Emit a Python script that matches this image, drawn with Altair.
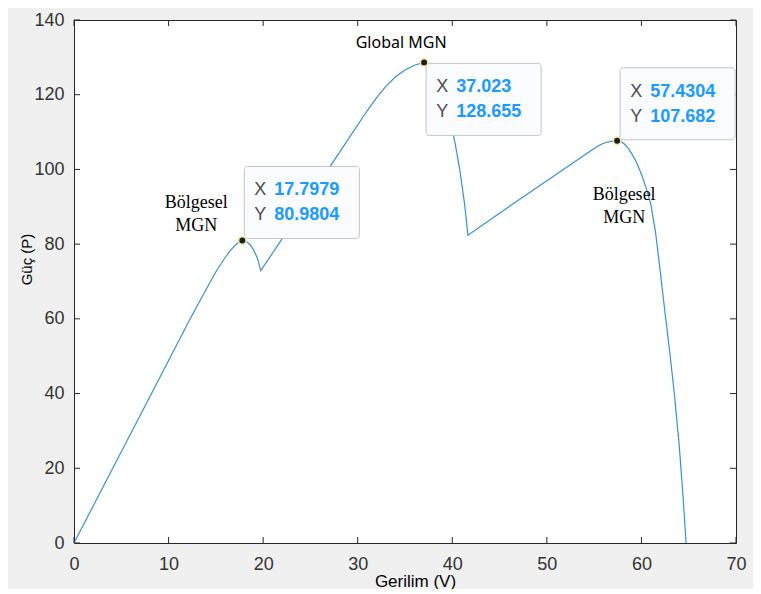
import altair as alt
import pandas as pd

# ---- data ----
volt = [0, 7.8, 12.0, 13.0, 14.0, 15.0, 16.0, 16.5, 17.0, 17.4, 17.7979,
        18.2, 18.6, 19.0, 19.4, 19.75,
        22.0, 25.0, 28.0, 31.0, 32.0, 33.0, 34.0, 35.0, 36.0, 37.023,
        37.4, 37.8, 38.2, 38.6, 39.0, 39.4, 39.8, 40.3, 40.8, 41.3, 41.65,
        45.0, 50.0, 55.0, 55.5, 56.0, 56.5, 57.0, 57.4304,
        57.8, 58.2, 58.6, 59.0, 59.5, 60.0, 60.5, 61.0, 61.5, 62.0,
        62.5, 63.0, 63.5, 64.0, 64.4, 64.72]
power = [0, 38.1, 58.6, 63.4, 68.0, 72.6, 76.5, 78.2, 79.6, 80.5, 80.9804,
         80.7, 79.9, 78.4, 76.2, 72.9,
         81.4, 92.9, 104.3, 115.7, 119.2, 122.3, 124.8, 126.6, 127.9, 128.655,
         128.4, 127.6, 126.2, 124.0, 120.8, 117.0, 112.8, 107.0, 99.8, 90.8, 82.4,
         88.3, 97.0, 105.6, 106.4, 107.0, 107.4, 107.6, 107.682,
         107.5, 106.8, 105.7, 104.1, 101.8, 98.7, 95.0, 90.6, 83.0, 72.5,
         61.5, 51.0, 39.5, 26.0, 12.5, 0]

tip_x = [17.7979, 37.023, 57.4304]
tip_y = [80.9804, 128.655, 107.682]
tip_xtxt = ["17.7979", "37.023", "57.4304"]
tip_ytxt = ["80.9804", "128.655", "107.682"]
notes = ["Bölgesel\nMGN", "Global MGN", "Bölgesel\nMGN"]

x_ticks = [0, 10, 20, 30, 40, 50, 60, 70]
y_ticks = [0, 20, 40, 60, 80, 100, 120, 140]

W, H = 662, 523
LINE = "#3a90d4"
FONT = "Liberation Sans"

curve = pd.DataFrame({"v": volt, "p": power})
xs = alt.Scale(domain=[0, 70], nice=False, zero=False)
ys = alt.Scale(domain=[0, 140], nice=False, zero=False)

x_axis = alt.Axis(values=x_ticks, grid=False, ticks=False, tickSize=0, domain=False,
                  labelFontSize=18, labelFont=FONT, labelColor="#333333", labelPadding=12,
                  labelFlush=False, labelOverlap=False,
                  title="Gerilim (V)", titleFont=FONT, titleFontSize=17, titleFontWeight="normal",
                  titleColor="#000000", titleX=341, titleY=43, titleAlign="center",
                  titleBaseline="alphabetic")
y_axis = alt.Axis(values=y_ticks, grid=False, ticks=False, tickSize=0, domain=False,
                  labelFontSize=18, labelFont=FONT, labelColor="#333333", labelPadding=10,
                  labelFlush=False, labelOverlap=False,
                  title="Güç (P)", titleFont=FONT, titleFontSize=15, titleFontWeight="normal",
                  titleColor="#000000", titleAngle=270, titleX=-48, titleY=239,
                  titleAlign="center", titleBaseline="middle")

line = alt.Chart(curve).mark_line(color=LINE, strokeWidth=1.2).encode(
    x=alt.X("v:Q", scale=xs, axis=x_axis),
    y=alt.Y("p:Q", scale=ys, axis=y_axis),
)

# inner ticks on all four sides (MATLAB box style)
xt = pd.DataFrame({"t": x_ticks})
yt = pd.DataFrame({"t": y_ticks})
tick_col = "#262626"
tb = alt.Chart(xt).mark_rule(color=tick_col, strokeWidth=1).encode(
    x=alt.X("t:Q", scale=xs), y=alt.value(H), y2=alt.value(H - 6))
tt = alt.Chart(xt).mark_rule(color=tick_col, strokeWidth=1).encode(
    x=alt.X("t:Q", scale=xs), y=alt.value(0), y2=alt.value(6))
tl = alt.Chart(yt).mark_rule(color=tick_col, strokeWidth=1).encode(
    y=alt.Y("t:Q", scale=ys), x=alt.value(0), x2=alt.value(6))
tr = alt.Chart(yt).mark_rule(color=tick_col, strokeWidth=1).encode(
    y=alt.Y("t:Q", scale=ys), x=alt.value(W), x2=alt.value(W - 6))

# data-tip boxes: (left offset, top offset) of each box relative to its point, in px
box_pos = [(2, -74), (2, 1), (3, -73)]
note_pos = [(-46, -37), (-23, -19), (7, 54)]
note_font = ["Liberation Serif", "Noto Sans", "Liberation Serif"]
note_size = [18, 16, 18]
BW, BH = 115, 72

layers = [line, tb, tt, tl, tr]
for i in range(3):
    d = pd.DataFrame({"x": [tip_x[i]], "y": [tip_y[i]],
                      "xt": [tip_xtxt[i]], "yt": [tip_ytxt[i]], "n": [notes[i]]})
    l, t = box_pos[i]
    base = alt.Chart(d)
    enc = dict(x=alt.X("x:Q", scale=xs), y=alt.Y("y:Q", scale=ys))
    box = base.mark_rect(xOffset=l, x2Offset=l + BW, yOffset=t, y2Offset=t + BH,
                         fill="#fbfcff", stroke="#c4c4c4", strokeWidth=1,
                         cornerRadius=3).encode(x2="x:Q", y2="y:Q", **enc)
    lx1 = base.mark_text(align="left", baseline="middle", dx=l + 10, dy=t + 24,
                         fontSize=18, font=FONT, color="#4d4d4d").encode(
        text=alt.value("X"), **enc)
    lx2 = base.mark_text(align="left", baseline="middle", dx=l + 30, dy=t + 24,
                         fontSize=18, font=FONT, fontWeight="bold", color="#1a9bff").encode(
        text="xt:N", **enc)
    ly1 = base.mark_text(align="left", baseline="middle", dx=l + 10, dy=t + 49,
                         fontSize=18, font=FONT, color="#4d4d4d").encode(
        text=alt.value("Y"), **enc)
    ly2 = base.mark_text(align="left", baseline="middle", dx=l + 30, dy=t + 49,
                         fontSize=18, font=FONT, fontWeight="bold", color="#1a9bff").encode(
        text="yt:N", **enc)
    pt = base.mark_point(shape="circle", filled=True, size=55, fill="#1e1e1e",
                         stroke="#eee8a0", strokeWidth=1.5, opacity=1).encode(**enc)
    nx, ny = note_pos[i]
    note = base.mark_text(align="center", baseline="middle", dx=nx, dy=ny,
                          lineBreak="\n", lineHeight=23, fontSize=note_size[i],
                          font=note_font[i], color="#000000").encode(text="n:N", **enc)
    layers += [box, lx1, lx2, ly1, ly2, pt, note]

chart = alt.layer(*layers).properties(
    width=W, height=H,
    padding={"left": 66, "top": 12, "right": 17, "bottom": 46},
    autosize=alt.AutoSizeParams(type="none"),
    background="#f0f0f0",
).configure_view(stroke="#262626", strokeWidth=1, fill="white")

chart.save("out.html", embed_options={"renderer": "svg", "actions": False})
